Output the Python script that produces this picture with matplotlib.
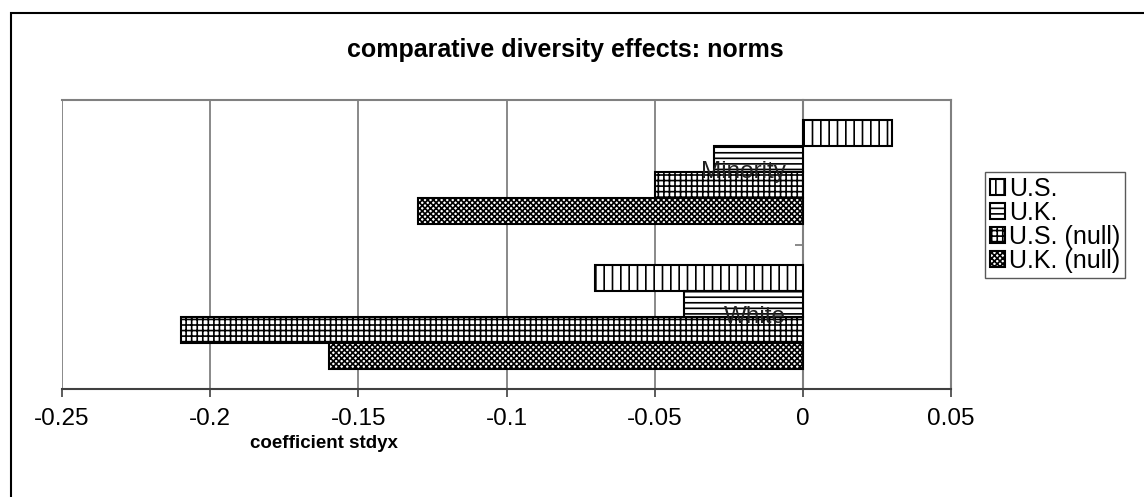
import matplotlib
matplotlib.use('Agg')
import matplotlib.pyplot as plt
from matplotlib.patches import Rectangle
from matplotlib.ticker import FuncFormatter, FixedLocator

# Data
categories = ['White', 'Minority']
series = ['U.S.', 'U.K.', 'U.S. (null)', 'U.K. (null)']
us = [-0.07, 0.03]
uk = [-0.04, -0.03]
us_null = [-0.21, -0.05]
uk_null = [-0.16, -0.13]
xticks = [-0.25, -0.2, -0.15, -0.1, -0.05, 0, 0.05]

values = [us, uk, us_null, uk_null]
hatches = ['||', '---', '+++', 'xxxxxx']
offsets = [0.27, 0.09, -0.09, -0.27]
bar_h = 0.18

plt.rcParams['font.family'] = ['Liberation Sans', 'DejaVu Sans']
plt.rcParams['axes.unicode_minus'] = False
plt.rcParams['hatch.linewidth'] = 1.2

W, H = 1144, 497
fig = plt.figure(figsize=(W / 100, H / 100), dpi=100)
ax = fig.add_axes([62 / W, 1 - 389 / H, (951 - 62) / W, (389 - 100) / H])

centers = [0.5 + i for i in range(len(categories))]

handles = []
for vals, hatch, off, name in zip(values, hatches, offsets, series):
    ypos = [c + off for c in centers]
    b = ax.barh(ypos, vals, height=bar_h, color='white', edgecolor='black',
                linewidth=1.5, hatch=hatch, label=name, zorder=3)
    handles.append(b)

# gridlines behind bars
for xt in xticks:
    ax.axvline(xt, color='#808080', lw=1.3, zorder=0)

ax.set_xlim(-0.25, 0.05)
ax.set_ylim(0, 2)
ax.set_xticks(xticks)
ax.xaxis.set_major_formatter(FuncFormatter(lambda v, p: '%g' % v))
ax.tick_params(axis='x', labelsize=17.5, length=6, width=1.2, color='#404040', pad=8)

# y axis sits at x=0 with ticks between categories
ax.spines['left'].set_position(('data', 0))
ax.spines['left'].set_color('#808080')
ax.spines['left'].set_linewidth(1.5)
ax.set_yticks([])
ax.yaxis.set_minor_locator(FixedLocator([1]))
ax.tick_params(axis='y', which='minor', length=6, width=1.3, color='#808080')
for s in ['top', 'right']:
    ax.spines[s].set_color('#808080')
    ax.spines[s].set_linewidth(1.5)
ax.spines['bottom'].set_color('#404040')
ax.spines['bottom'].set_linewidth(1.5)

for c, name in zip(centers, categories):
    ax.annotate(name, xy=(0, c), xytext=(-12, 0), textcoords='offset points',
                ha='right', va='center', fontsize=17.5, color='#202020', zorder=5)

fig.text(565 / W, 1 - 50 / H, 'comparative diversity effects: norms',
         ha='center', va='center', fontsize=18, fontweight='bold')
fig.text(324 / W, 1 - 443 / H, 'coefficient stdyx',
         ha='center', va='center', fontsize=13.5, fontweight='bold')

leg = fig.legend(handles=handles, loc='upper left',
                 bbox_to_anchor=(985 / W, 1 - 172 / H), fontsize=18,
                 frameon=True, fancybox=False, edgecolor='#303030',
                 handlelength=0.6, handleheight=0.6, handletextpad=0.15,
                 labelspacing=0.0, borderpad=0.2, borderaxespad=0)
leg.get_frame().set_linewidth(1.0)

# outer chart border
fig.patches.append(Rectangle((11 / W, -0.1), 1.2, 1.1 - 13 / H,
                             transform=fig.transFigure, fill=False,
                             edgecolor='black', linewidth=1.5))

fig.savefig('out.png', dpi=100)
